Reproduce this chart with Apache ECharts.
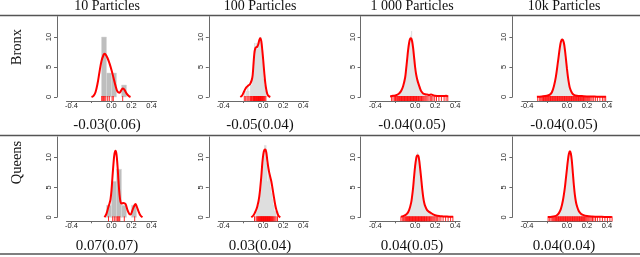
<!DOCTYPE html>
<html>
<head>
<meta charset="utf-8">
<script src="https://cdn.jsdelivr.net/npm/echarts@6/dist/echarts.min.js"></script>
<style>html,body{margin:0;padding:0;background:#fff}#c{width:640px;height:257px}</style>
</head>
<body>
<div id="c"></div>
<script>
// ---------- text ----------
const columnTitles = ['10 Particles', '100 Particles', '1 000 Particles', '10k Particles'];
const rowTitles = ['Bronx', 'Queens'];
const bronxMeans = ['-0.03(0.06)', '-0.05(0.04)', '-0.04(0.05)', '-0.04(0.05)'];
const queensMeans = ['0.07(0.07)', '0.03(0.04)', '0.04(0.05)', '0.04(0.04)'];
const xTickValues = [-0.4, -0.2, 0, 0.2, 0.4];
const xLabelValues = [-0.4, 0, 0.2, 0.4];
const yTickValues = [0, 5, 10];

// ---------- Bronx ----------
const bronx10HistStart = -0.10, bronx10HistWidth = 0.05;
const bronx10Hist = [10, 4, 4, 0, 2];
const bronx10Curve = [[-0.20,0.0],[-0.18,0.2],[-0.16,0.8],[-0.14,2.2],[-0.12,4.2],[-0.10,6.0],[-0.08,7.0],[-0.07,7.2],[-0.06,7.1],[-0.04,6.5],[-0.02,5.6],[0.0,4.5],[0.02,3.2],[0.04,1.9],[0.06,0.9],[0.08,0.7],[0.10,1.2],[0.115,1.4],[0.13,1.2],[0.15,0.6],[0.17,0.2],[0.19,0.0]];
const bronx10Rug = [-0.098,-0.088,-0.079,-0.068,-0.057,-0.038,-0.022,0.006,0.018,0.112];

const bronx100HistStart = -0.19, bronx100HistWidth = 0.01;
const bronx100Hist = [1,0,1,2,1,0,2,2,3,5,9,8,9,8,9,10,10,8,6,3,2,1];
const bronx100Curve = [[-0.23,0],[-0.21,0.3],[-0.19,1.0],[-0.17,1.6],[-0.15,1.9],[-0.13,2.2],[-0.11,3.2],[-0.10,5.0],[-0.09,7.2],[-0.08,8.1],[-0.07,8.3],[-0.06,8.4],[-0.05,8.8],[-0.04,9.5],[-0.03,9.8],[-0.02,9.3],[-0.01,7.8],[0.0,6.0],[0.01,4.0],[0.02,2.3],[0.03,1.2],[0.04,0.5],[0.05,0.2],[0.07,0.0]];
const bronx100Rug = [-0.19,-0.176,-0.163,-0.152,-0.141,-0.128,-0.118,-0.111,-0.104,-0.098,-0.093,-0.088,-0.084,-0.079,-0.074,-0.07,-0.066,-0.061,-0.057,-0.052,-0.048,-0.044,-0.04,-0.036,-0.032,-0.028,-0.024,-0.02,-0.015,-0.011,-0.006,-0.002,0.004,0.01,0.017,0.026];

const bronx1000HistStart = -0.25, bronx1000HistWidth = 0.01;
const bronx1000Hist = [0.1,0.1,0.2,0.2,0.2,0.3,0.3,0.4,0.5,0.6, 0.8,1.0,1.4,1.9,2.6,3.5,4.9,6.5,8.0,9.3, 10.2,11.0,9.6,8.3,6.4,4.8,3.7,2.9,2.4,1.8, 1.3,1.0,0.7,0.6,0.5,0.5,0.4,0.4,0.3,0.4, 0.5,0.3,0.2,0.2,0.1,0.2,0.1,0.1,0.1,0.1, 0.1,0.1,0.2,0.1,0.1,0.2,0.2,0.1];
const bronx1000Curve = [[-0.25,0.1],[-0.22,0.2],[-0.19,0.3],[-0.16,0.6],[-0.14,1.0],[-0.12,1.8],[-0.10,3.2],[-0.09,4.6],[-0.08,6.2],[-0.07,7.8],[-0.06,9.0],[-0.05,9.7],[-0.04,9.8],[-0.03,9.3],[-0.02,8.2],[-0.01,6.6],[0.0,5.0],[0.01,3.8],[0.02,3.0],[0.03,2.4],[0.04,1.9],[0.05,1.4],[0.06,1.0],[0.08,0.6],[0.10,0.45],[0.12,0.4],[0.14,0.35],[0.16,0.4],[0.18,0.3],[0.20,0.2],[0.24,0.15],[0.28,0.15],[0.31,0.2],[0.33,0.1]];
const bronx1000Rug = [-0.235,-0.221,-0.207,-0.196,-0.189,-0.181,-0.174,-0.168,-0.161,-0.155,-0.148,-0.142,-0.136,-0.13,-0.124,-0.118,-0.112,-0.106,-0.1,-0.094,-0.088,-0.082,-0.076,-0.07,-0.064,-0.058,-0.052,-0.046,-0.04,-0.034,-0.028,-0.022,-0.016,-0.01,-0.004,0.002,0.008,0.014,0.02,0.027,0.034,0.041,0.048,0.056,0.064,0.072,0.081,0.09,0.1,0.11,0.121,0.138,0.152,0.166,0.179,0.196,0.214,0.238,0.263,0.29,0.31,0.327];

const bronx10kHistStart = -0.30, bronx10kHistWidth = 0.01;
const bronx10kHist = [0.05,0.05,0.05,0.05,0.1,0.1,0.1,0.1,0.15,0.15, 0.2,0.2,0.3,0.4,0.6,0.9,1.3,1.9,2.7,3.7, 4.9,6.2,7.6,8.7,9.5,9.8,9.6,8.9,7.6,6.0, 4.4,3.1,2.1,1.4,0.9,0.6,0.45,0.35,0.3,0.25, 0.2,0.2,0.18,0.16,0.15,0.14,0.13,0.12,0.12,0.11, 0.1,0.1,0.09,0.08,0.08,0.07,0.07,0.06,0.06,0.06, 0.05,0.05,0.05,0.05,0.05,0.04,0.04,0.04,0.04];
const bronx10kCurve = [[-0.30,0.05],[-0.25,0.1],[-0.20,0.2],[-0.17,0.4],[-0.15,0.8],[-0.13,1.8],[-0.11,3.4],[-0.09,5.8],[-0.07,8.3],[-0.06,9.2],[-0.05,9.6],[-0.04,9.5],[-0.03,9.0],[-0.02,7.9],[-0.01,6.4],[0.0,4.8],[0.01,3.4],[0.02,2.3],[0.03,1.5],[0.05,0.7],[0.07,0.35],[0.10,0.2],[0.15,0.15],[0.20,0.1],[0.25,0.08],[0.30,0.06],[0.35,0.05],[0.39,0.03]];
const bronx10kRug = [-0.292,-0.276,-0.262,-0.251,-0.242,-0.234,-0.227,-0.22,-0.213,-0.206,-0.199,-0.192,-0.185,-0.178,-0.171,-0.164,-0.157,-0.15,-0.143,-0.136,-0.129,-0.122,-0.115,-0.108,-0.101,-0.094,-0.087,-0.08,-0.073,-0.066,-0.059,-0.052,-0.045,-0.038,-0.031,-0.024,-0.017,-0.01,-0.003,0.004,0.011,0.018,0.025,0.032,0.039,0.046,0.053,0.06,0.067,0.074,0.081,0.088,0.095,0.102,0.109,0.116,0.123,0.13,0.137,0.144,0.151,0.158,0.166,0.174,0.182,0.19,0.199,0.208,0.218,0.228,0.24,0.252,0.268,0.285,0.305,0.33,0.355,0.372,0.388];

// ---------- Queens ----------
const queens10HistStart = -0.05, queens10HistWidth = 0.05;
const queens10Hist = [2, 6, 8, 2, 0, 2];
const queens10Curve = [[-0.07,0.0],[-0.05,0.6],[-0.03,1.8],[-0.02,2.3],[-0.01,3.0],[0.0,4.5],[0.01,6.8],[0.02,9.0],[0.03,10.6],[0.04,11.1],[0.05,10.5],[0.06,8.6],[0.07,6.0],[0.08,3.8],[0.09,2.6],[0.10,2.3],[0.12,2.4],[0.14,2.2],[0.16,1.2],[0.18,0.5],[0.19,0.45],[0.21,1.2],[0.23,2.0],[0.24,2.2],[0.25,1.9],[0.27,1.0],[0.29,0.3],[0.31,0.0]];
const queens10Rug = [-0.03,0.012,0.028,0.045,0.058,0.066,0.075,0.083,0.128,0.232];

const queens100HistStart = -0.09, queens100HistWidth = 0.01;
const queens100Hist = [1,0,1,2,2,3,5,7,9,11,12,12,9,6,8,7,5,4,3,2,1,1,0,1];
const queens100Curve = [[-0.12,0.0],[-0.10,0.3],[-0.08,0.9],[-0.06,1.8],[-0.04,3.5],[-0.02,6.8],[-0.01,9.0],[0.0,10.5],[0.01,11.2],[0.02,11.3],[0.03,10.8],[0.04,9.5],[0.05,8.3],[0.06,7.4],[0.08,6.0],[0.10,4.0],[0.12,2.0],[0.13,1.3],[0.15,0.3],[0.17,0.0]];
const queens100Rug = [-0.088,-0.072,-0.063,-0.056,-0.05,-0.045,-0.04,-0.035,-0.03,-0.026,-0.022,-0.018,-0.014,-0.01,-0.006,-0.002,0.002,0.006,0.01,0.014,0.018,0.022,0.026,0.03,0.034,0.038,0.042,0.046,0.05,0.054,0.058,0.062,0.066,0.071,0.076,0.081,0.087,0.093,0.1,0.108,0.117,0.128,0.142];

const queens1000HistStart = -0.14, queens1000HistWidth = 0.01;
const queens1000Hist = [0.1,0.1,0.2,0.2,0.3,0.4,0.5,0.8,1.1,1.6, 2.3,3.3,4.6,6.3,8.2,9.6,10.8,10.4,9.4,7.8, 6.0,4.4,3.2,2.3,1.8,1.4,1.1,0.9,0.8,0.7, 0.6,0.5,0.4,0.4,0.3,0.3,0.2,0.2,0.2,0.1, 0.2,0.1,0.1,0.1,0.1,0.1,0.1,0.1,0.1,0.1,0.1,0.1];
const queens1000Curve = [[-0.14,0.1],[-0.12,0.2],[-0.10,0.35],[-0.08,0.6],[-0.06,1.2],[-0.04,2.4],[-0.03,3.5],[-0.02,4.9],[-0.01,6.8],[0.0,8.5],[0.01,9.7],[0.02,10.3],[0.03,10.3],[0.04,9.6],[0.05,8.2],[0.06,6.6],[0.07,4.9],[0.08,3.5],[0.09,2.5],[0.10,1.9],[0.12,1.2],[0.14,0.9],[0.16,0.7],[0.18,0.5],[0.20,0.35],[0.24,0.2],[0.28,0.15],[0.32,0.12],[0.36,0.1],[0.38,0.08]];
const queens1000Rug = [-0.142,-0.128,-0.115,-0.104,-0.095,-0.087,-0.08,-0.074,-0.068,-0.062,-0.056,-0.05,-0.044,-0.038,-0.032,-0.026,-0.02,-0.014,-0.008,-0.002,0.004,0.01,0.016,0.022,0.028,0.034,0.04,0.046,0.052,0.058,0.064,0.07,0.076,0.082,0.088,0.094,0.1,0.107,0.114,0.121,0.128,0.136,0.144,0.152,0.161,0.17,0.18,0.19,0.2,0.212,0.226,0.24,0.258,0.28,0.305,0.33,0.355,0.378];

const queens10kHistStart = -0.19, queens10kHistWidth = 0.01;
const queens10kHist = [0.05,0.05,0.1,0.1,0.1,0.15,0.2,0.2,0.3,0.4, 0.5,0.7,1.0,1.4,2.0,2.9,4.0,5.4,7.0,8.6, 9.9,10.8,10.9,10.1,8.6,6.7,4.9,3.5,2.5,1.8, 1.3,1.0,0.8,0.6,0.5,0.4,0.35,0.3,0.25,0.2, 0.2,0.15,0.15,0.1,0.1,0.1,0.1,0.08,0.08,0.08, 0.07,0.07,0.06,0.06,0.06,0.05,0.05,0.05,0.05,0.05,0.04,0.04,0.04,0.04];
const queens10kCurve = [[-0.19,0.05],[-0.15,0.1],[-0.12,0.2],[-0.10,0.35],[-0.08,0.7],[-0.06,1.4],[-0.04,2.8],[-0.02,5.0],[-0.01,6.5],[0.0,8.0],[0.01,9.5],[0.02,10.6],[0.03,11.0],[0.04,10.6],[0.05,9.3],[0.06,7.3],[0.07,5.3],[0.08,3.7],[0.09,2.6],[0.10,1.9],[0.12,1.0],[0.14,0.6],[0.16,0.4],[0.20,0.2],[0.25,0.12],[0.30,0.1],[0.35,0.08],[0.40,0.06],[0.45,0.04]];
const queens10kRug = [-0.188,-0.172,-0.158,-0.146,-0.136,-0.127,-0.119,-0.112,-0.105,-0.098,-0.091,-0.084,-0.077,-0.07,-0.063,-0.056,-0.049,-0.042,-0.035,-0.028,-0.021,-0.014,-0.007,0.0,0.007,0.014,0.021,0.028,0.035,0.042,0.049,0.056,0.063,0.07,0.077,0.084,0.091,0.098,0.105,0.112,0.119,0.126,0.133,0.14,0.147,0.154,0.161,0.168,0.175,0.183,0.191,0.2,0.21,0.22,0.231,0.243,0.256,0.27,0.286,0.305,0.33,0.355,0.38,0.405,0.43,0.452];

// ---------- assembly ----------
const panels = [
  [bronx10HistStart, bronx10HistWidth, bronx10Hist, bronx10Curve, bronx10Rug],
  [bronx100HistStart, bronx100HistWidth, bronx100Hist, bronx100Curve, bronx100Rug],
  [bronx1000HistStart, bronx1000HistWidth, bronx1000Hist, bronx1000Curve, bronx1000Rug],
  [bronx10kHistStart, bronx10kHistWidth, bronx10kHist, bronx10kCurve, bronx10kRug],
  [queens10HistStart, queens10HistWidth, queens10Hist, queens10Curve, queens10Rug],
  [queens100HistStart, queens100HistWidth, queens100Hist, queens100Curve, queens100Rug],
  [queens1000HistStart, queens1000HistWidth, queens1000Hist, queens1000Curve, queens1000Rug],
  [queens10kHistStart, queens10kHistWidth, queens10kHist, queens10kCurve, queens10kRug]
];

const barFill = ['#bebebe', '#c4c4c4', '#d4d4d4', '#dcdcdc'];
const colCenter = [107, 260, 412, 564];
const axisColor = '#6a6a6a';
const grids = [], xAxes = [], yAxes = [], series = [];

panels.forEach((p, i) => {
  const row = Math.floor(i / 4), col = i % 4;
  const yAxisX = 57 + col * 151.8;
  const y0 = 97 + row * 120.3;
  grids.push({ left: yAxisX + 9.5, top: y0 - 80.4, width: 90, height: 80.4 });
  xAxes.push({
    gridIndex: i, type: 'value', min: -0.45, max: 0.45, offset: 4, position: 'bottom',
    axisLine: { show: true, onZero: false, lineStyle: { color: axisColor, width: 1 } },
    axisTick: { show: true, length: 2, customValues: xTickValues, lineStyle: { color: axisColor } },
    axisLabel: { customValues: xLabelValues, formatter: v => (Math.abs(v) < 1e-9 ? '0.0' : v.toFixed(1)),
      fontSize: 7.5, margin: 1, color: '#222', fontFamily: 'Liberation Sans' },
    splitLine: { show: false }
  });
  yAxes.push({
    gridIndex: i, type: 'value', min: 0, max: 13.4, offset: 9.5, position: 'left',
    axisLine: { show: true, onZero: false, lineStyle: { color: axisColor, width: 1 } },
    axisTick: { show: true, length: 3, customValues: yTickValues, lineStyle: { color: axisColor } },
    axisLabel: { customValues: yTickValues, rotate: 90, fontSize: 7.5, margin: 4, color: '#222', fontFamily: 'Liberation Sans' },
    splitLine: { show: false }
  });
  const [hs, hw, hh, curve, rug] = p;
  const histData = [];
  hh.forEach((h, k) => { if (h > 0) histData.push([hs + k * hw, hs + (k + 1) * hw, h]); });
  const fill = barFill[col];
  series.push({
    type: 'custom', xAxisIndex: i, yAxisIndex: i, data: histData,
    encode: { x: [0, 1], y: 2 },
    renderItem: (params, api) => {
      const a = api.coord([api.value(0), api.value(2)]);
      const b = api.coord([api.value(1), 0]);
      return { type: 'rect', shape: { x: a[0], y: a[1], width: b[0] - a[0], height: b[1] - a[1] },
        style: { fill: fill, stroke: col === 0 ? '#d8d8d8' : '#f2f2f2', lineWidth: col === 0 ? 0.5 : 0.35 } };
    }
  });
  series.push({
    type: 'line', xAxisIndex: i, yAxisIndex: i, data: curve, smooth: 0.35,
    showSymbol: false, symbol: 'none', clip: false,
    lineStyle: { color: '#ff0000', width: 2 }
  });
  series.push({
    type: 'custom', xAxisIndex: i, yAxisIndex: i, data: rug.map(v => [v, 0]),
    encode: { x: 0, y: 1 }, clip: false,
    renderItem: (params, api) => {
      const q = api.coord([api.value(0), 0]);
      return { type: 'line', shape: { x1: q[0], y1: q[1] - 1, x2: q[0], y2: q[1] + 4 },
        style: { stroke: '#ff0000', lineWidth: 1, opacity: 0.85 } };
    }
  });
});

const graphics = [];
[15.5, 135.5, 254].forEach(y => graphics.push({ type: 'line', shape: { x1: 0, y1: y, x2: 640, y2: y },
  style: { stroke: '#555', lineWidth: 1.5 } }));
columnTitles.forEach((t, c) => graphics.push({ type: 'text', x: colCenter[c], y: 6,
  style: { text: t, font: '14px "Liberation Serif"', fill: '#111', textAlign: 'center', textVerticalAlign: 'middle' } }));
rowTitles.forEach((t, r) => graphics.push({ type: 'text', x: 17, y: r === 0 ? 47 : 162.5, rotation: Math.PI / 2,
  style: { text: t, font: '14.5px "Liberation Serif"', fill: '#111', textAlign: 'center', textVerticalAlign: 'middle' } }));
bronxMeans.forEach((t, c) => graphics.push({ type: 'text', x: colCenter[c], y: 125.5,
  style: { text: t, font: '15px "Liberation Serif"', fill: '#111', textAlign: 'center', textVerticalAlign: 'middle' } }));
queensMeans.forEach((t, c) => graphics.push({ type: 'text', x: colCenter[c], y: 245.8,
  style: { text: t, font: '15px "Liberation Serif"', fill: '#111', textAlign: 'center', textVerticalAlign: 'middle' } }));

const chart = echarts.init(document.getElementById('c'), null, { renderer: 'canvas' });
chart.setOption({
  animation: false,
  backgroundColor: '#ffffff',
  grid: grids, xAxis: xAxes, yAxis: yAxes, series: series,
  graphic: graphics
});
</script>
</body>
</html>
